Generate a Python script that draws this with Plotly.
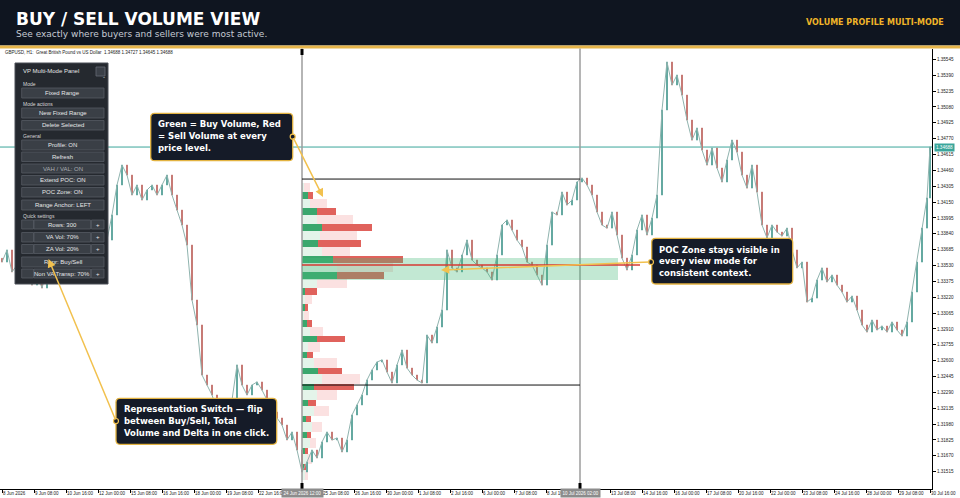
import plotly.graph_objects as go

W, H = 960, 498

# ---------------- data ----------------
hours = list(range(0, 926, 5)) + [928]          # trading-hour index of each candle
close = [
    1.33564, 1.33682, 1.33467, 1.33535, 1.33388, 1.33486, 1.33339, 1.33437, 1.33310, 1.33486,
    1.33584, 1.33535, 1.33682, 1.33633, 1.33779, 1.33682, 1.33535, 1.33388, 1.33486, 1.33633,
    1.33730, 1.33779, 1.34024, 1.34317, 1.34512, 1.34414, 1.34219, 1.34317, 1.34170, 1.34268,
    1.34317, 1.34219, 1.34317, 1.34414, 1.34219, 1.34072, 1.33926, 1.33730, 1.33193, 1.32949,
    1.32460, 1.32362, 1.32265, 1.32118, 1.31825, 1.32069, 1.32216, 1.32558, 1.32362, 1.32265,
    1.32362, 1.32392, 1.32313, 1.32216, 1.32098, 1.32040, 1.31971, 1.31825, 1.31903, 1.31727,
    1.31512, 1.31610, 1.31727, 1.31649, 1.31805, 1.31903, 1.31825, 1.31844, 1.31708, 1.31825,
    1.32069, 1.32167, 1.32265, 1.32411, 1.32509, 1.32587, 1.32607, 1.32489, 1.32382, 1.32558,
    1.32704, 1.32528, 1.32460, 1.32411, 1.32382, 1.32851, 1.32773, 1.32929, 1.33095, 1.33682,
    1.33506, 1.33467, 1.33633, 1.33779, 1.33584, 1.33535, 1.33506, 1.33467, 1.33388, 1.33633,
    1.33926, 1.33975, 1.33877, 1.33779, 1.33711, 1.33564, 1.33535, 1.33437, 1.33339, 1.33730,
    1.34053, 1.34024, 1.34248, 1.34121, 1.34170, 1.34346, 1.34385, 1.34317, 1.34219, 1.34053,
    1.33926, 1.33896, 1.34053, 1.33828, 1.33603, 1.33486, 1.33633, 1.33877, 1.34024, 1.33828,
    1.33994, 1.34219, 1.35050, 1.35519, 1.35294, 1.35392, 1.35196, 1.34952, 1.34756, 1.34874,
    1.34659, 1.34512, 1.34678, 1.34483, 1.34346, 1.34561, 1.34756, 1.34639, 1.34414, 1.34287,
    1.34512, 1.34248, 1.33926, 1.33799, 1.33926, 1.33857, 1.33818, 1.33896, 1.33682, 1.33506,
    1.33564, 1.33173, 1.33212, 1.33388, 1.33506, 1.33369, 1.33437, 1.33339, 1.33271, 1.33173,
    1.33232, 1.33095, 1.32949, 1.32880, 1.32997, 1.32900, 1.32939, 1.32880, 1.32978, 1.32900,
    1.32841, 1.32978, 1.33271, 1.33564, 1.33896, 1.34190,
    1.34688,
]
first_open = 1.33600

# tick labels (the ones at 24 Jun 00:00 and 10 Jul 00:00 sit under the range-line date boxes)
x_tick_hours = [0, 32, 64, 96, 128, 160, 192, 224, 256, 320, 352, 384, 416, 448,
                480, 512, 544, 608, 640, 672, 704, 736, 768, 800, 832, 864, 896, 928]
x_tick_text = ["8 Jun 2026", "9 Jun 08:00", "10 Jun 16:00", "12 Jun 00:00", "15 Jun 08:00",
               "16 Jun 16:00", "18 Jun 00:00", "19 Jun 08:00", "22 Jun 16:00",
               "25 Jun 08:00", "26 Jun 16:00", "30 Jun 00:00", "1 Jul 08:00", "2 Jul 16:00",
               "6 Jul 00:00", "7 Jul 08:00", "8 Jul 16", "13 Jul 08:00",
               "14 Jul 16:00", "16 Jul 00:00", "17 Jul 08:00", "20 Jul 16:00", "22 Jul 00:00",
               "23 Jul 08:00", "24 Jul 16:00", "28 Jul 00:00", "29 Jul 08:00", "30 Jul 16:00"]
y_tick_vals = [1.35545, 1.35390, 1.35235, 1.35080, 1.34925, 1.34770, 1.34615, 1.34460, 1.34305,
               1.34150, 1.33995, 1.33840, 1.33685, 1.33530, 1.33375, 1.33220, 1.33065, 1.32910,
               1.32755, 1.32600, 1.32445, 1.32290, 1.32135, 1.31980, 1.31825, 1.31670, 1.31515]

# volume profile rows (price level, buy volume, sell volume)
prof_dark_levels = [1.34219, 1.34063, 1.33907, 1.33751, 1.33595, 1.33439, 1.33283, 1.33127, 1.32971,
                    1.32815, 1.32659, 1.32503, 1.32347, 1.32191, 1.32035, 1.31879, 1.31723, 1.31567]
prof_dark_buy = [6, 15, 20, 16, 31, 35, 3, 3, 5, 15, 5, 16, 12, 6, 4, 5, 3, 2]
prof_dark_sell = [5, 19, 50, 43, 70, 47, 12, 3, 5, 28, 6, 24, 40, 8, 5, 4, 3, 2]
prof_light_levels = [1.34297, 1.34141, 1.33985, 1.33829, 1.33673, 1.33517, 1.33361, 1.33205, 1.33049,
                     1.32893, 1.32737, 1.32581, 1.32425, 1.32269, 1.32113, 1.31957, 1.31801, 1.31645,
                     1.31489]
prof_light_buy = [2, 8, 15, 18, 20, 35, 15, 3, 2, 8, 6, 12, 20, 15, 12, 10, 8, 5, 3]
prof_light_sell = [6, 17, 36, 37, 28, 56, 30, 7, 5, 13, 12, 23, 38, 20, 15, 10, 6, 5, 3]

last_price = 1.34688
poc_price = 1.33535
poc_zone_lo, poc_zone_hi = 1.33388, 1.33603
range_hi, range_lo = 1.34375, 1.32362
range_start_h, range_end_h = 300, 578
poc_zone_end_h, poc_line_end_h = 616, 638

# ---------------- helpers (layout only) ----------------
def X(px):
    return px / W


def Y(py):
    return 1 - py / H


def rrect(x0, y0, x1, y1, r):
    pts = [
        ("M", [(x0 + r, y0)]), ("L", [(x1 - r, y0)]), ("Q", [(x1, y0), (x1, y0 + r)]),
        ("L", [(x1, y1 - r)]), ("Q", [(x1, y1), (x1 - r, y1)]), ("L", [(x0 + r, y1)]),
        ("Q", [(x0, y1), (x0, y1 - r)]), ("L", [(x0, y0 + r)]), ("Q", [(x0, y0), (x0 + r, y0)]),
    ]
    s = ""
    for cmd, pp in pts:
        s += cmd + " " + " ".join(f"{X(a):.5f},{Y(b):.5f}" for a, b in pp) + " "
    return s + "Z"


fig = go.Figure()


# volume profile (drawn first, candles above)
def add_profile(levels, buy, sell, hgt, cb, cs):
    fig.add_trace(go.Bar(orientation="h", y=levels, x=buy, base=[range_start_h] * len(buy), width=hgt,
                         marker=dict(color=cb, line=dict(width=0)), hoverinfo="skip", showlegend=False))
    fig.add_trace(go.Bar(orientation="h", y=levels, x=sell, base=[range_start_h + b for b in buy], width=hgt,
                         marker=dict(color=cs, line=dict(width=0)), hoverinfo="skip", showlegend=False))


add_profile(prof_light_levels, prof_light_buy, prof_light_sell, 0.00092, "#e4f4ea", "#fbe1e1")
add_profile(prof_dark_levels, prof_dark_buy, prof_dark_sell, 0.00064, "#3aa76d", "#e0625c")

opens = [first_open] + close[:-1]
highs = [max(o, c) for o, c in zip(opens, close)]
lows = [min(o, c) for o, c in zip(opens, close)]

# thin path through the closes (gives the continuous hourly look), candles on top
fig.add_trace(go.Scatter(x=hours, y=close, mode="lines", line=dict(color="#8fb3ae", width=1),
                         hoverinfo="skip", showlegend=False))
fig.add_trace(go.Candlestick(
    x=hours, open=opens, high=highs, low=lows, close=close, whiskerwidth=0,
    increasing=dict(line=dict(color="#5ea59d", width=1), fillcolor="#5ea59d"),
    decreasing=dict(line=dict(color="#c47570", width=1), fillcolor="#c47570"),
    showlegend=False, hoverinfo="skip"))

XD = [0, 932 / W]
YD = [Y(489), Y(48.5)]

shapes = []
# header
shapes.append(dict(type="rect", xref="paper", yref="paper", x0=0, x1=1, y0=Y(45.5), y1=1,
                   fillcolor="#0f1520", line=dict(width=0), layer="above"))
shapes.append(dict(type="rect", xref="paper", yref="paper", x0=0, x1=1, y0=Y(48.5), y1=Y(45.5),
                   fillcolor="#e6b54a", line=dict(width=0), layer="above"))
# last price line
shapes.append(dict(type="line", xref="x", yref="y", x0=-2, x1=930, y0=last_price, y1=last_price,
                   line=dict(color="#3aa69b", width=1), layer="below"))
# range vertical lines
for hv in (range_start_h, range_end_h):
    shapes.append(dict(type="line", xref="x", yref="paper", x0=hv, x1=hv, y0=YD[0], y1=YD[1],
                       line=dict(color="#9c9c9c", width=1.5), layer="above"))
# range horizontal lines
for pv in (range_hi, range_lo):
    shapes.append(dict(type="line", xref="x", yref="y", x0=range_start_h, x1=range_end_h, y0=pv, y1=pv,
                       line=dict(color="#111111", width=1), layer="above"))
# POC zone and POC line
shapes.append(dict(type="rect", xref="x", yref="y", x0=range_start_h, x1=poc_zone_end_h,
                   y0=poc_zone_lo, y1=poc_zone_hi, fillcolor="rgba(70,185,120,0.33)",
                   line=dict(width=0), layer="above"))
shapes.append(dict(type="line", xref="x", yref="y", x0=range_start_h, x1=poc_line_end_h,
                   y0=poc_price, y1=poc_price, line=dict(color="#d63a33", width=1.5), layer="above"))
# small black markers on the vertical lines
for (a, b, c, d) in [(300.5, 49, 303.5, 55), (300.5, 483, 303.5, 489), (578.5, 483, 581.5, 489)]:
    shapes.append(dict(type="rect", xref="paper", yref="paper", x0=X(a), x1=X(c), y0=Y(d), y1=Y(b),
                       fillcolor="#000", line=dict(width=0), layer="above"))

annotations = []
# header texts
annotations.append(dict(x=X(14), y=Y(18.5), xref="paper", yref="paper", xanchor="left", yanchor="middle",
                        text="<b>BUY / SELL VOLUME VIEW</b>", showarrow=False,
                        font=dict(family="DejaVu Sans", size=17, color="#ffffff")))
annotations.append(dict(x=X(14), y=Y(34), xref="paper", yref="paper", xanchor="left", yanchor="middle",
                        text="See exactly where buyers and sellers were most active.", showarrow=False,
                        font=dict(family="DejaVu Sans", size=9, color="#c5cad3")))
annotations.append(dict(x=X(946), y=Y(22.8), xref="paper", yref="paper", xanchor="right", yanchor="middle",
                        text="<b>VOLUME PROFILE MULTI-MODE</b>", showarrow=False,
                        font=dict(family="DejaVu Sans", size=8, color="#f0b429")))
# chart title
annotations.append(dict(x=X(3), y=Y(52.5), xref="paper", yref="paper", xanchor="left", yanchor="middle",
                        text="GBPUSD, H1:  Great British Pound vs US Dollar  1.34688 1.34727 1.34645 1.34688",
                        showarrow=False, font=dict(family="Liberation Sans", size=4.5, color="#222")))
# last price label
annotations.append(dict(x=X(933.5), y=last_price, xref="paper", yref="y", xanchor="left", yanchor="middle",
                        text=f"{last_price:.5f}", showarrow=False, bgcolor="#3aa69b", borderpad=1,
                        font=dict(family="Liberation Sans", size=4.6, color="#ffffff")))
# time labels of the range lines
for hv, txt in ((range_start_h, "24 Jun 2026 12:00"), (range_end_h, "10 Jul 2026 02:00")):
    annotations.append(dict(x=hv, y=Y(492.5), xref="x", yref="paper", xanchor="center", yanchor="middle",
                            text=txt, showarrow=False, bgcolor="#8c8c8c", borderpad=1.5,
                            font=dict(family="Liberation Sans", size=4.5, color="#ffffff")))

# ---------------- MT5 panel ----------------
shapes.append(dict(type="rect", xref="paper", yref="paper", x0=X(15), x1=X(108), y0=Y(284), y1=Y(63),
                   fillcolor="#25292f", line=dict(color="#4a4f57", width=1), layer="above"))
annotations.append(dict(x=X(21), y=Y(71), xref="paper", yref="paper", xanchor="left", yanchor="middle",
                        text="VP Multi-Mode Panel", showarrow=False,
                        font=dict(family="Liberation Sans", size=6, color="#e4e4e4")))
shapes.append(dict(type="rect", xref="paper", yref="paper", x0=X(96), x1=X(105), y0=Y(76), y1=Y(67),
                   fillcolor="#3b4048", line=dict(color="#666b73", width=0.8), layer="above"))
annotations.append(dict(x=X(100.5), y=Y(71.5), xref="paper", yref="paper", text="-", showarrow=False,
                        font=dict(family="Liberation Sans", size=6, color="#e4e4e4")))
for txt, yy in (("Mode", 84), ("Mode actions", 103.5), ("General", 136), ("Quick settings", 215.5)):
    annotations.append(dict(x=X(21), y=Y(yy), xref="paper", yref="paper", xanchor="left", yanchor="middle",
                            text=txt, showarrow=False,
                            font=dict(family="Liberation Sans", size=5, color="#d8d8d8")))


def button(x0, x1, y0, y1, txt, col="#e6e6e6"):
    shapes.append(dict(type="rect", xref="paper", yref="paper", x0=X(x0), x1=X(x1), y0=Y(y1), y1=Y(y0),
                       fillcolor="#3a3f46", line=dict(color="#555a62", width=0.8), layer="above"))
    if txt:
        annotations.append(dict(x=X((x0 + x1) / 2), y=Y((y0 + y1) / 2), xref="paper", yref="paper",
                                xanchor="center", yanchor="middle", text=txt, showarrow=False,
                                font=dict(family="Liberation Sans", size=6, color=col)))


for txt, y0, y1 in (("Fixed Range", 88, 98), ("New Fixed Range", 108, 118), ("Delete Selected", 120.5, 130),
                    ("Profile: ON", 140, 150), ("Refresh", 152, 161.5), ("VAH / VAL: ON", 164, 173),
                    ("Extend POC: ON", 175.5, 185), ("POC Zone: ON", 187.5, 197),
                    ("Range Anchor: LEFT", 200, 210), ("Repr: Buy/Sell", 257, 267)):
    button(21.7, 104, y0, y1, txt, "#a9adb3" if txt.startswith("VAH") else "#e6e6e6")
for txt, y0, y1 in (("Rows: 300", 220, 229), ("VA Vol: 70%", 232.5, 242), ("ZA Vol: 20%", 244.5, 253.5),
                    ("Non VA Transp: 70%", 269, 278)):
    button(21.7, 33.5, y0, y1, "")
    button(34, 90.5, y0, y1, txt)
    button(91.5, 104, y0, y1, "+")

# ---------------- callouts ----------------
callouts = [
    ((150.7, 113.3, 292.7, 160.7), 156, [124.3, 136, 147.7],
     ["Green = Buy Volume, Red", "= Sell Volume at every", "price level."]),
    ((116, 398.3, 276.7, 444.3), 121.7, [408.5, 420.7, 432.7],
     ["Representation Switch \u2014 flip", "between Buy/Sell, Total", "Volume and Delta in one click."]),
    ((651.7, 238.3, 792.7, 284), 656.7, [249.5, 261.2, 272.8],
     ["POC Zone stays visible in", "every view mode for", "consistent context."]),
]
for (bx0, by0, bx1, by1), tx, lys, lines in callouts:
    shapes.append(dict(type="path", xref="paper", yref="paper", path=rrect(bx0, by0, bx1, by1, 4),
                       fillcolor="#151b28", line=dict(color="#e3b341", width=1.3), layer="above"))
    for ly, ln in zip(lys, lines):
        annotations.append(dict(x=X(tx), y=Y(ly), xref="paper", yref="paper", xanchor="left",
                                yanchor="middle", text=f"<b>{ln}</b>", showarrow=False,
                                font=dict(family="DejaVu Sans", size=8.5, color="#ffffff")))

arrows = [((292.7, 136.7), (323, 197)), ((116, 421), (48.5, 259)), ((651, 262), (441, 270))]
for (tx, ty), (hx, hy) in arrows:
    annotations.append(dict(x=X(hx), y=Y(hy), xref="paper", yref="paper", ax=tx - hx, ay=ty - hy,
                            axref="pixel", ayref="pixel", text="", showarrow=True, arrowhead=2,
                            arrowsize=1.1, arrowwidth=1.5, arrowcolor="#f2c14e", standoff=0))
    shapes.append(dict(type="circle", xref="paper", yref="paper", xsizemode="pixel", ysizemode="pixel",
                       xanchor=X(tx), yanchor=Y(ty), x0=-2.5, x1=2.5, y0=-2.5, y1=2.5,
                       fillcolor="#151b28", line=dict(color="#f2c14e", width=1.2), layer="above"))

fig.update_layout(
    width=W, height=H, autosize=False, margin=dict(l=0, r=0, t=0, b=0, pad=0),
    paper_bgcolor="white", plot_bgcolor="white", showlegend=False,
    barmode="overlay", boxgap=0.6, bargap=0,
    font=dict(family="Liberation Sans", color="#222"),
    xaxis=dict(domain=XD, range=[-2, 930], rangeslider=dict(visible=False), showgrid=False, zeroline=False,
               automargin=False,
               showline=True, linecolor="#000", linewidth=1, ticks="outside", ticklen=3, tickcolor="#000",
               tickvals=x_tick_hours, ticktext=x_tick_text, ticklabelposition="outside right",
               tickangle=0, tickfont=dict(family="Liberation Sans", size=4.5, color="#222"), fixedrange=True),
    yaxis=dict(domain=YD, range=[1.31346, 1.35651], side="right", showgrid=False, zeroline=False,
               automargin=False,
               showline=True, linecolor="#000", linewidth=1, ticks="outside", ticklen=3, tickcolor="#000",
               tickvals=y_tick_vals, ticktext=[f"{v:.5f}" for v in y_tick_vals],
               tickfont=dict(family="Liberation Sans", size=4.6, color="#222"), fixedrange=True),
    shapes=shapes, annotations=annotations,
)

fig.write_html("out.html", config={"responsive": False, "displayModeBar": False})
